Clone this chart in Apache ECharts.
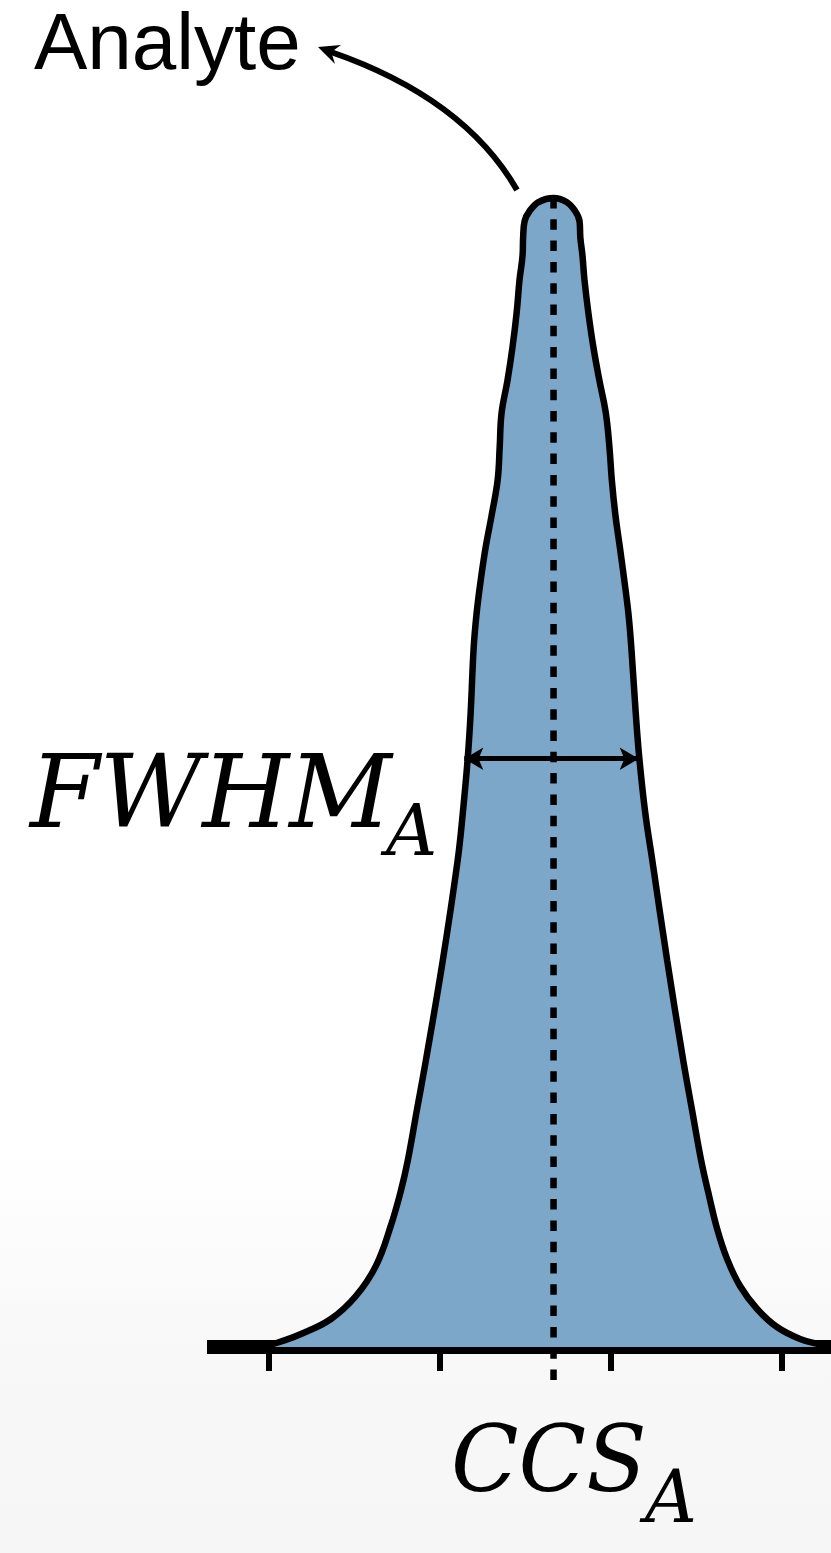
<!DOCTYPE html>
<html>
<head>
<meta charset="utf-8">
<script src="https://cdn.jsdelivr.net/npm/echarts@6/dist/echarts.min.js"></script>
<style>
  html, body { margin: 0; padding: 0; background: #fff; }
  #chart { width: 831px; height: 1553px; }
</style>
</head>
<body>
<div id="chart"></div>
<script>
// Arrival-time distribution of the analyte, expressed on the CCS axis
const ccs = [199.65, 200.70, 201.87, 203.62, 205.08, 206.25, 207.12, 207.71, 208.11, 208.64,
  209.17, 210.16, 211.03, 211.33, 211.62, 211.79, 211.97, 212.14, 212.38, 212.67,
  213.02, 213.37, 213.49, 213.60, 213.95, 214.24, 214.48, 214.65, 214.83, 214.86,
  214.95, 215.24, 215.76, 216.64, 217.40, 217.90, 218.16, 218.21, 218.33, 218.45,
  218.68, 218.97, 219.32, 219.70, 219.91, 220.05, 220.26, 220.52, 220.78, 221.02,
  221.19, 221.45, 221.66, 222.01, 222.42, 223.29, 224.23, 224.75, 225.28, 225.74,
  226.21, 226.79, 227.55, 228.55, 229.71, 231.06, 232.22, 232.87];
const intensity = [0, 0.48, 1.13, 2.44, 4.44, 7.06, 10.54, 13.59, 16.20, 20.56,
  24.91, 33.62, 42.33, 46.43, 51.22, 55.14, 60.89, 63.85, 66.72, 69.60,
  72.39, 75.44, 78.31, 81.27, 84.15, 87.02, 89.98, 92.86, 95.03, 96.52,
  98.00, 98.87, 99.65, 100, 99.65, 98.87, 98.00, 96.52, 95.03, 92.86,
  89.98, 87.02, 84.15, 81.27, 78.31, 75.44, 72.39, 69.60, 66.72, 63.85,
  60.89, 55.14, 51.22, 46.43, 42.33, 33.62, 24.91, 20.56, 16.20, 13.15,
  10.28, 7.67, 5.31, 3.31, 1.74, 0.70, 0.22, 0.04];
const tickValues = [200, 210, 220, 230];
const apexCcs = 216.64;           // CCS_A, centre of the peak
const apexLineEnds = [100, -3.1]; // dashed marker, from the apex to just below the axis
const fwhmLevel = 51.2;           // height of the FWHM arrow
const fwhmEdges = [211.42, 221.62];

const chart = echarts.init(document.getElementById('chart'), null, { renderer: 'canvas' });

const peakData = ccs.map((x, i) => [x, intensity[i]]);
const apexData = apexLineEnds.map(y => [apexCcs, y]);

chart.setOption({
  animation: false,
  backgroundColor: {
    type: 'linear', x: 0, y: 0, x2: 0, y2: 1,
    colorStops: [
      { offset: 0, color: '#ffffff' },
      { offset: 0.74, color: '#ffffff' },
      { offset: 0.87, color: '#f8f8f8' },
      { offset: 1, color: '#f6f6f6' }
    ]
  },
  grid: { left: 207, right: 0, top: 198, bottom: 206, outerBoundsMode: 'none' },
  xAxis: {
    type: 'value',
    min: 196.37,
    max: 232.87,
    axisLine: { show: true, onZero: false, lineStyle: { color: '#000', width: 14, cap: 'butt' } },
    axisTick: {
      show: true,
      customValues: tickValues,
      length: 24,
      lineStyle: { color: '#000', width: 6 }
    },
    axisLabel: { show: false },
    splitLine: { show: false }
  },
  yAxis: {
    type: 'value',
    min: 0,
    max: 100,
    show: false,
    splitLine: { show: false }
  },
  series: [
    {
      type: 'line',
      data: peakData,
      smooth: 0.4,
      clip: false,
      showSymbol: false,
      symbol: 'none',
      z: 3,
      lineStyle: { color: '#000', width: 6.5 },
      areaStyle: { color: '#7ca7c8', opacity: 1 },
      markLine: {
        silent: true,
        symbol: ['arrow', 'arrow'],
        symbolSize: [17, 19],
        label: { show: false },
        lineStyle: { color: '#000', width: 5, type: 'solid' },
        data: [[{ coord: [fwhmEdges[0], fwhmLevel] }, { coord: [fwhmEdges[1], fwhmLevel] }]]
      }
    },
    {
      type: 'line',
      data: apexData,
      clip: false,
      symbol: 'none',
      z: 4,
      lineStyle: { color: '#000', width: 6.5, type: [10.5, 10.8] }
    }
  ],
  graphic: [
    {
      type: 'text',
      style: { text: 'Analyte', x: 34, y: 47, verticalAlign: 'middle',
        font: '80px "Liberation Sans", Arial, sans-serif', fill: '#000' }
    },
    {
      type: 'bezierCurve',
      shape: { x1: 517, y1: 190, cpx1: 464, cpy1: 98, x2: 331, y2: 52 },
      style: { stroke: '#000', lineWidth: 6, fill: null }
    },
    {
      type: 'polygon',
      shape: { points: [[318, 47], [341, 45], [331.3, 52.1], [335, 64]] },
      style: { fill: '#000' }
    },
    {
      type: 'text',
      x: 30, y: 801, scaleX: 0.99,
      style: { text: 'FWHM', x: 0, y: 0, verticalAlign: 'middle',
        font: 'italic 101px "DejaVu Serif", serif', fill: '#000' }
    },
    {
      type: 'text',
      style: { text: 'A', x: 386, y: 837, verticalAlign: 'middle',
        font: 'italic 71px "DejaVu Serif", serif', fill: '#000' }
    },
    {
      type: 'text',
      x: 451, y: 1467, scaleX: 0.96,
      style: { text: 'CCS', x: 0, y: 0, verticalAlign: 'middle',
        font: 'italic 92px "DejaVu Serif", serif', fill: '#000' }
    },
    {
      type: 'text',
      style: { text: 'A', x: 645, y: 1503, verticalAlign: 'middle',
        font: 'italic 72px "DejaVu Serif", serif', fill: '#000' }
    }
  ]
});
</script>
</body>
</html>
